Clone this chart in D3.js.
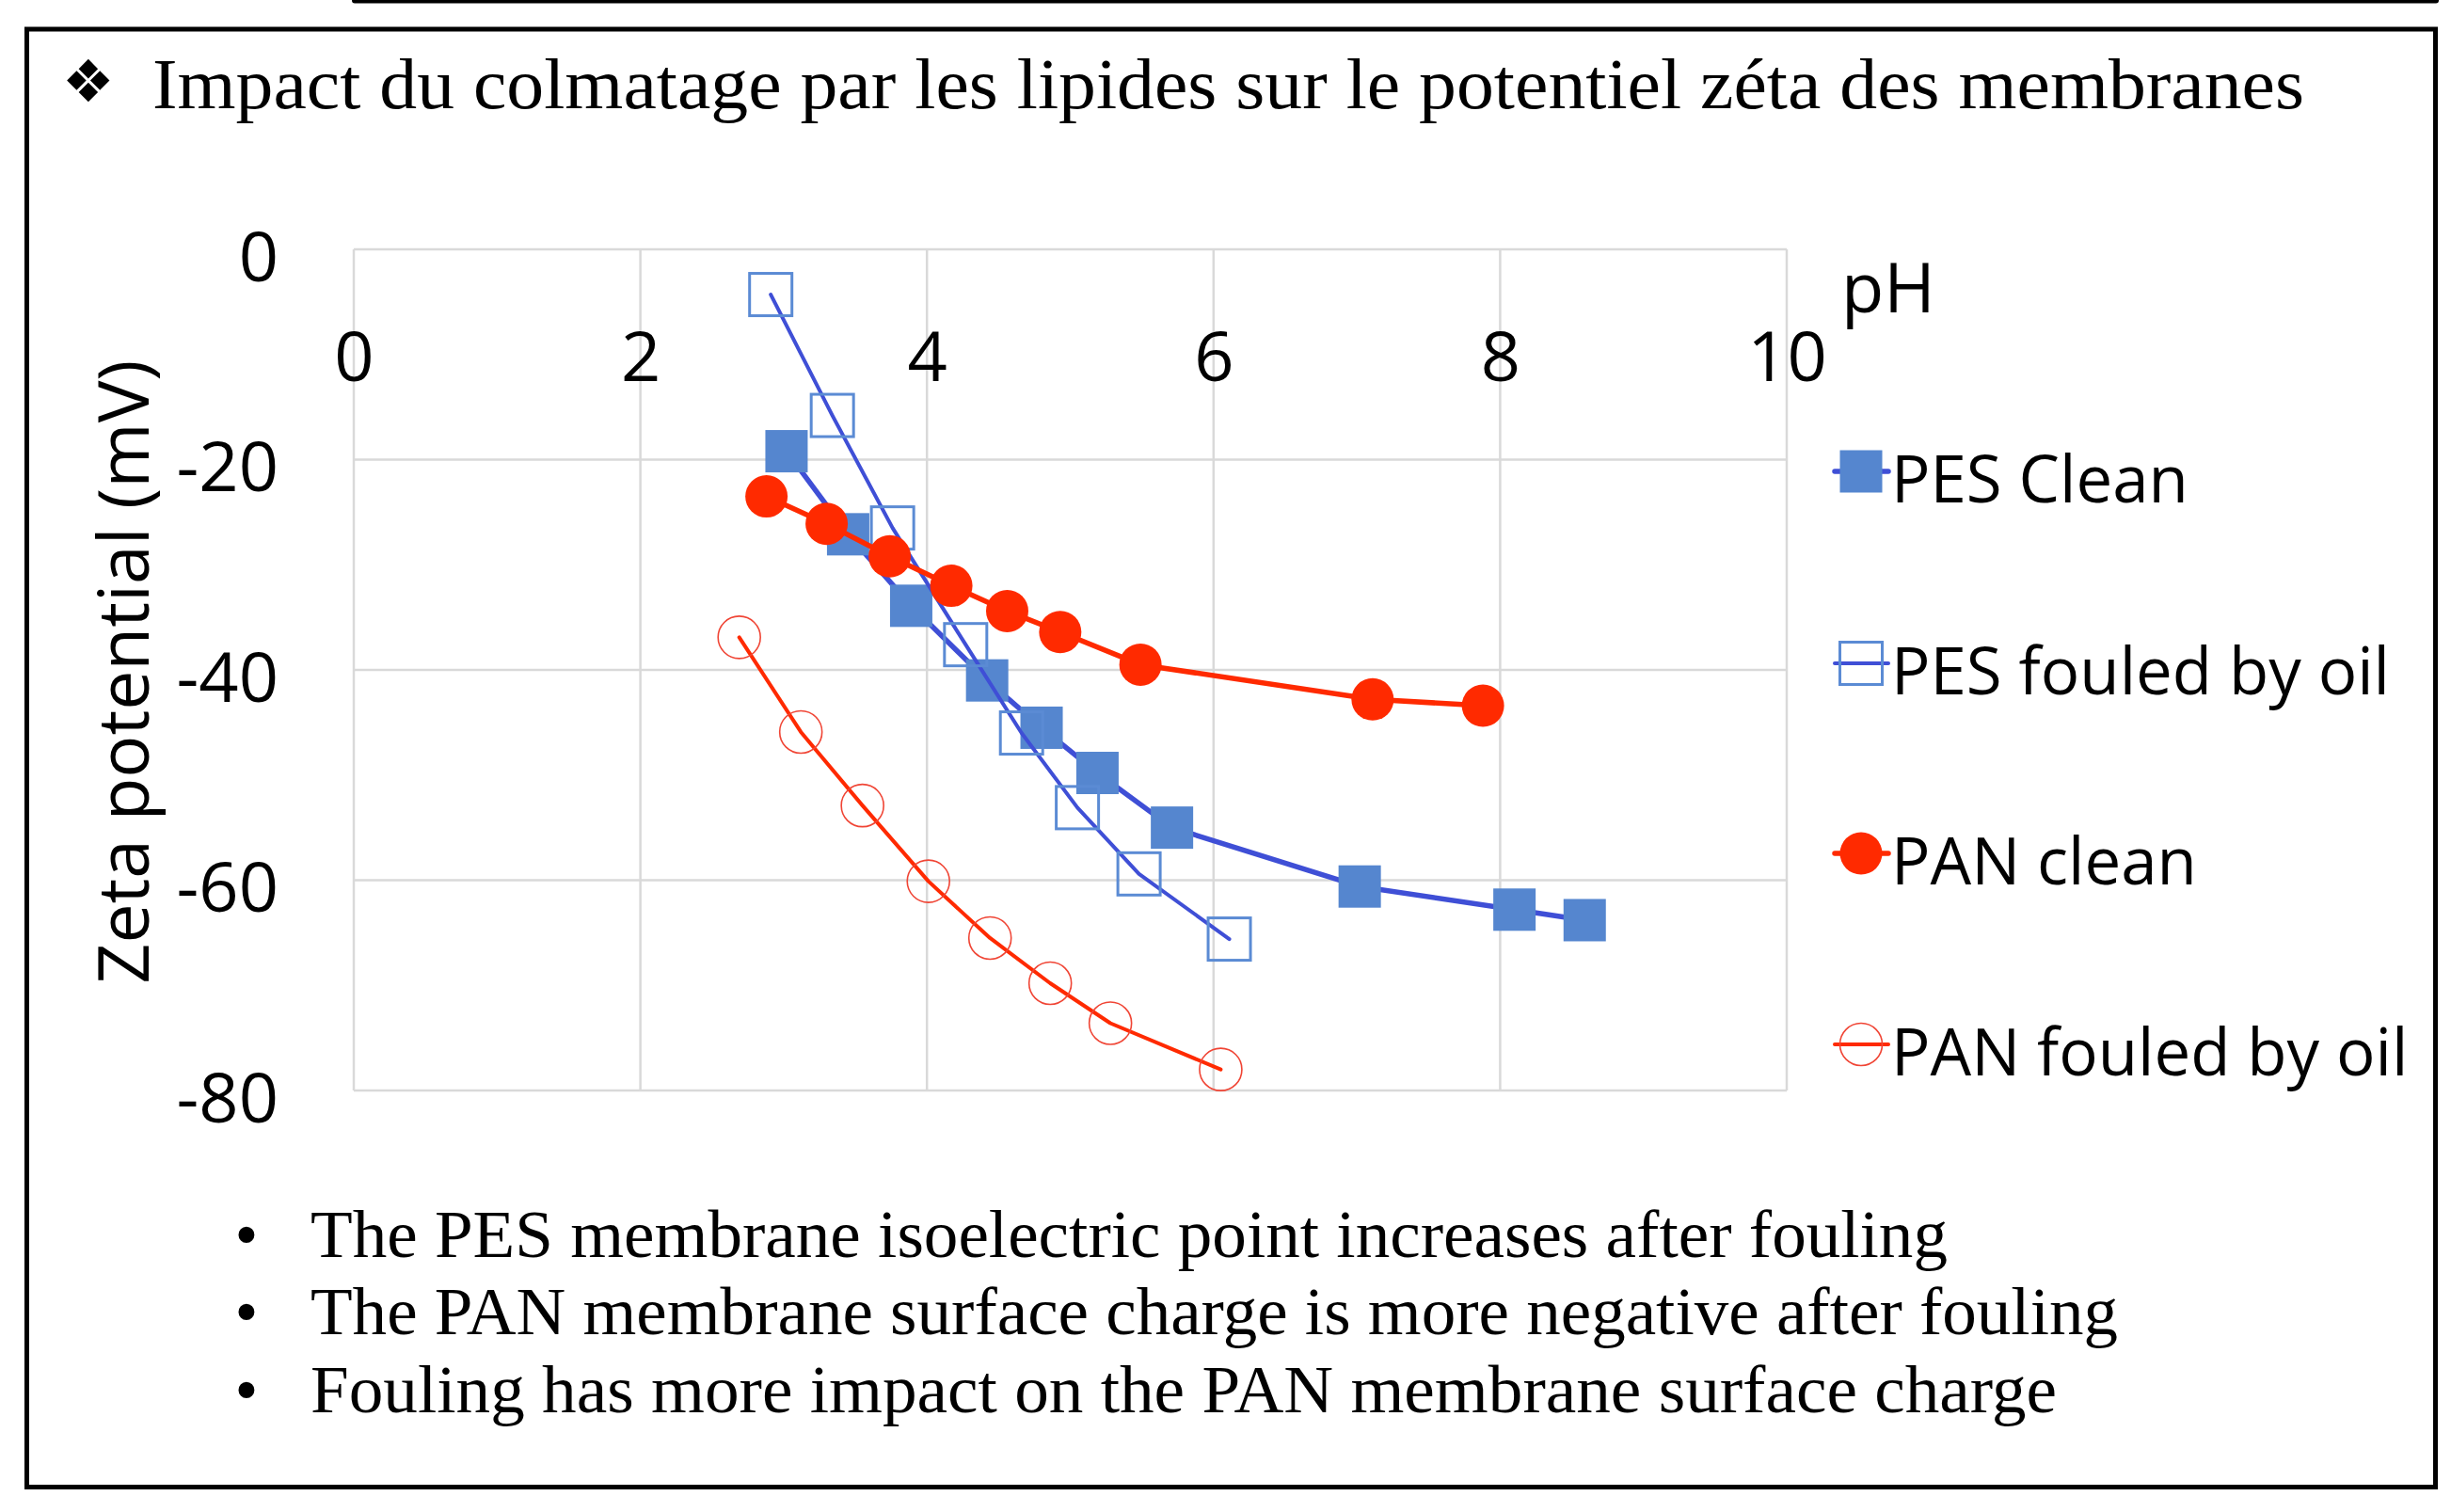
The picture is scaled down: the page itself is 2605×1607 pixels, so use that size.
<!DOCTYPE html>
<html>
<head>
<meta charset="utf-8">
<script src="https://cdn.jsdelivr.net/npm/d3@7"></script>
<style>
  html, body { margin: 0; padding: 0; background: #ffffff; }
  svg { display: block; }
</style>
</head>
<body>
<script>
// ---------- data ----------
const titleText = "Impact du colmatage par les lipides sur le potentiel zéta des membranes";
const bulletTexts = [
  "The PES membrane isoelectric point increases after fouling",
  "The PAN membrane surface charge is more negative after fouling",
  "Fouling has more impact on the PAN membrane surface charge"
];
const xTicks = [0, 2, 4, 6, 8, 10];
const yTicks = [0, -20, -40, -60, -80];
const xAxisTitle = "pH";
const yAxisTitle = "Zeta potential (mV)";
const seriesNames = ["PES Clean", "PES fouled by oil", "PAN clean", "PAN fouled by oil"];

const pesCleanPH   = [3.02, 3.45, 3.89, 4.42, 4.80, 5.19, 5.71, 7.02, 8.10, 8.59];
const pesCleanZeta = [-19.2, -27.1, -33.9, -41.0, -45.5, -49.8, -55.0, -60.6, -62.8, -63.8];
const pesFouledPH   = [2.91, 3.34, 3.76, 4.27, 4.66, 5.05, 5.48, 6.11];
const pesFouledZeta = [-4.3, -15.8, -26.5, -37.6, -46.0, -53.1, -59.4, -65.6];
const panCleanPH   = [2.88, 3.30, 3.74, 4.17, 4.56, 4.93, 5.49, 7.11, 7.88];
const panCleanZeta = [-23.5, -26.1, -29.2, -32.0, -34.4, -36.4, -39.5, -42.8, -43.4];
const panFouledPH   = [2.69, 3.12, 3.55, 4.01, 4.44, 4.86, 5.28, 6.05];
const panFouledZeta = [-36.9, -45.9, -52.9, -60.1, -65.5, -69.8, -73.6, -78.0];

// ---------- setup ----------
const W = 2605, H = 1607;
const svg = d3.select("body").append("svg").attr("width", W).attr("height", H);
svg.append("rect").attr("width", W).attr("height", H).attr("fill", "#ffffff");

const sans = "'Open Sans', 'Noto Sans', sans-serif";
const serif = "'Liberation Serif', 'DejaVu Serif', serif";

// frame lines
svg.append("line").attr("x1", 377).attr("x2", 2589).attr("y1", 0.5).attr("y2", 0.5)
  .attr("stroke", "#000").attr("stroke-width", 6).attr("stroke-linecap", "round");
svg.append("rect").attr("x", 28.5).attr("y", 31).attr("width", 2560).attr("height", 1549.5)
  .attr("fill", "none").attr("stroke", "#000").attr("stroke-width", 5);

// title
svg.append("text").attr("x", 66).attr("y", 108)
  .attr("font-family", "'DejaVu Sans', sans-serif").attr("font-size", 62).attr("fill", "#000")
  .text("❖");
svg.append("text").attr("x", 162).attr("y", 115)
  .attr("font-family", serif).attr("font-size", 76).attr("fill", "#000")
  .attr("textLength", 2287).attr("lengthAdjust", "spacingAndGlyphs")
  .text(titleText);

// bullets
const bulletBaselines = [1336, 1418, 1501];
const bulletWidths = [1740, 1921, 1856];
bulletTexts.forEach((t, i) => {
  svg.append("text").attr("x", 262).attr("y", bulletBaselines[i]).attr("text-anchor", "middle")
    .attr("font-family", serif).attr("font-size", 71).attr("fill", "#000").text("•");
  svg.append("text").attr("x", 330).attr("y", bulletBaselines[i])
    .attr("font-family", serif).attr("font-size", 72).attr("fill", "#000")
    .attr("textLength", bulletWidths[i]).attr("lengthAdjust", "spacingAndGlyphs")
    .text(t);
});

// ---------- chart ----------
const x = d3.scaleLinear().domain([0, 10]).range([376, 1899]);
const y = d3.scaleLinear().domain([0, -80]).range([265, 1159]);

const grid = svg.append("g");
grid.selectAll("line.v").data(xTicks).enter().append("line")
  .attr("x1", d => x(d)).attr("x2", d => x(d)).attr("y1", y(0)).attr("y2", y(-80))
  .attr("stroke", "#d9d9d9").attr("stroke-width", 2.5);
grid.selectAll("line.h").data(yTicks).enter().append("line")
  .attr("x1", x(0)).attr("x2", x(10)).attr("y1", d => y(d)).attr("y2", d => y(d))
  .attr("stroke", "#d9d9d9").attr("stroke-width", 2.5);

// x axis (labels below the zero line)
const xAxis = svg.append("g").attr("transform", `translate(0,${y(0)})`)
  .call(d3.axisBottom(x).tickValues(xTicks).tickSize(0).tickFormat(d => String(d)));
xAxis.select(".domain").remove();
xAxis.selectAll("text").attr("y", 140).attr("dy", 0)
  .attr("font-family", sans).attr("font-size", 74).attr("fill", "#000");

// y axis
const yAxis = svg.append("g").attr("transform", `translate(${x(0)},0)`)
  .call(d3.axisLeft(y).tickValues(yTicks).tickSize(0).tickFormat(d => String(d)));
yAxis.select(".domain").remove();
yAxis.selectAll("text").attr("x", -80).attr("dy", "0.45em")
  .attr("font-family", sans).attr("font-size", 74).attr("fill", "#000");

// axis titles
svg.append("text").attr("x", 1957).attr("y", 332)
  .attr("font-family", sans).attr("font-size", 74).attr("fill", "#000").text(xAxisTitle);
svg.append("text").attr("transform", "translate(158,714) rotate(-90)").attr("text-anchor", "middle")
  .attr("font-family", sans).attr("font-size", 75).attr("fill", "#000").text(yAxisTitle);

// series
const series = [
  { name: seriesNames[0], xs: pesCleanPH, ys: pesCleanZeta, line: "#3f4fd6", lw: 5.5, shape: "square", fill: "#5586cf", stroke: "none", sw: 0 },
  { name: seriesNames[1], xs: pesFouledPH, ys: pesFouledZeta, line: "#3f4fd6", lw: 4, shape: "square", fill: "none", stroke: "#5b8bd4", sw: 3 },
  { name: seriesNames[2], xs: panCleanPH, ys: panCleanZeta, line: "#ff2a00", lw: 5.5, shape: "circle", fill: "#ff2a00", stroke: "none", sw: 0 },
  { name: seriesNames[3], xs: panFouledPH, ys: panFouledZeta, line: "#ff2a00", lw: 4, shape: "circle", fill: "none", stroke: "#f04535", sw: 1.6 }
];
const MS = 45;
const lineGen = d3.line().x(d => x(d[0])).y(d => y(d[1]));

function drawMarker(g, shape, cx, cy, s) {
  if (shape === "square") {
    g.append("rect").attr("x", cx - MS / 2).attr("y", cy - MS / 2).attr("width", MS).attr("height", MS)
      .attr("fill", s.fill).attr("stroke", s.stroke).attr("stroke-width", s.sw);
  } else {
    g.append("circle").attr("cx", cx).attr("cy", cy).attr("r", MS / 2)
      .attr("fill", s.fill).attr("stroke", s.stroke).attr("stroke-width", s.sw);
  }
}

series.forEach(s => {
  const pts = s.xs.map((v, i) => [v, s.ys[i]]);
  const g = svg.append("g");
  g.append("path").datum(pts).attr("d", lineGen).attr("fill", "none")
    .attr("stroke", s.line).attr("stroke-width", s.lw)
    .attr("stroke-linejoin", "round").attr("stroke-linecap", "round");
  pts.forEach(p => drawMarker(g, s.shape, x(p[0]), y(p[1]), s));
});

// legend
const legendY = [501, 705, 907, 1110];
series.forEach((s, i) => {
  const g = svg.append("g");
  const cy = legendY[i];
  g.append("line").attr("x1", 1950).attr("x2", 2007).attr("y1", cy).attr("y2", cy)
    .attr("stroke", s.line).attr("stroke-width", s.lw).attr("stroke-linecap", "round");
  drawMarker(g, s.shape, 1978, cy, s);
  g.append("text").attr("x", 2010).attr("y", cy + 33)
    .attr("font-family", sans).attr("font-size", 69).attr("fill", "#000").text(s.name);
});
</script>
</body>
</html>
